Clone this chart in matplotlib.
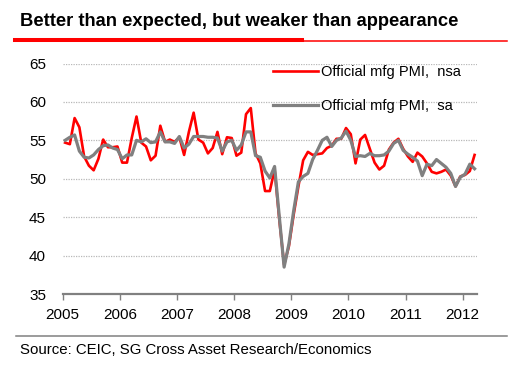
import numpy as np
import matplotlib.pyplot as plt
from matplotlib.lines import Line2D

plt.rcParams['font.family'] = ['Liberation Sans', 'DejaVu Sans']

# Official manufacturing PMI, Jan 2005 - Mar 2012 (monthly)
pmi_nsa = [
    54.7, 54.5, 57.9, 56.7, 52.9, 51.7, 51.1, 52.6, 55.1, 54.1, 54.1, 54.2,   # 2005
    52.1, 52.1, 55.3, 58.1, 54.7, 54.2, 52.4, 53.0, 56.9, 54.8, 55.1, 54.8,   # 2006
    55.4, 53.1, 56.1, 58.6, 55.1, 54.7, 53.3, 54.0, 56.1, 53.2, 55.4, 55.3,   # 2007
    53.0, 53.4, 58.4, 59.2, 53.3, 52.0, 48.4, 48.4, 51.2, 44.6, 38.8, 41.2,   # 2008
    45.3, 49.0, 52.4, 53.5, 53.1, 53.2, 53.3, 54.0, 54.3, 55.2, 55.2, 56.6,   # 2009
    55.8, 52.0, 55.1, 55.7, 53.9, 52.1, 51.2, 51.7, 53.8, 54.7, 55.2, 53.9,   # 2010
    52.9, 52.2, 53.4, 52.9, 52.0, 50.9, 50.7, 50.9, 51.2, 50.4, 49.0, 50.3,   # 2011
    50.5, 51.0, 53.1,                                                       # 2012
]
pmi_sa = [
    55.0, 55.4, 55.7, 53.6, 52.8, 52.7, 53.1, 53.8, 54.3, 54.4, 54.0, 53.8,   # 2005
    52.6, 53.1, 53.1, 55.0, 54.8, 55.2, 54.7, 54.8, 56.1, 54.8, 54.8, 54.6,   # 2006
    55.5, 54.0, 54.5, 55.5, 55.5, 55.5, 55.4, 55.4, 55.3, 53.6, 54.8, 55.0,   # 2007
    53.7, 54.4, 56.1, 56.1, 53.0, 52.8, 51.0, 50.1, 51.6, 45.0, 38.5, 41.5,   # 2008
    45.8, 49.6, 50.3, 50.7, 52.5, 53.7, 55.0, 55.4, 54.2, 55.0, 55.3, 56.2,   # 2009
    55.0, 52.9, 53.0, 52.9, 53.3, 53.0, 53.0, 53.1, 53.6, 54.6, 55.0, 53.7,   # 2010
    53.2, 52.8, 52.3, 50.4, 51.9, 51.7, 52.5, 52.0, 51.5, 50.7, 49.0, 50.2,   # 2011
    50.6, 51.9, 51.3,                                                       # 2012
]
years = [2005, 2006, 2007, 2008, 2009, 2010, 2011, 2012]
yticks = [35, 40, 45, 50, 55, 60, 65]

# monthly points sit mid-month on a year axis
t = 2005 + (np.arange(len(pmi_nsa)) + 0.5) / 12.0

W, H = 521, 371
fig = plt.figure(figsize=(W / 100, H / 100), dpi=100)

ax = fig.add_axes([62.7 / W, 1 - 294 / H, 414.6 / W, 230.5 / H])
ax.plot(t, pmi_nsa, color='#ff0000', lw=1.9, label='Official mfg PMI,  nsa', zorder=3)
ax.plot(t, pmi_sa, color='#808080', lw=2.3, label='Official mfg PMI,  sa', zorder=4)

ax.set_xlim(2005, 2012.256)
ax.set_ylim(35, 65)
ax.set_xticks(years)
ax.set_yticks(yticks)
ax.tick_params(axis='y', length=0, pad=12, labelsize=11)
ax.tick_params(axis='x', length=4, width=1, color='#808080', pad=6, labelsize=11)
for s in ['left', 'right', 'top']:
    ax.spines[s].set_visible(False)
ax.spines['bottom'].set_color('#808080')
ax.spines['bottom'].set_linewidth(1.6)
ax.grid(axis='y', color='#b8b8b8', lw=0.9, ls=(0, (1, 1)))
ax.set_axisbelow(True)

ax.legend(loc='upper left', bbox_to_anchor=(0.507, 0.995), frameon=False,
          fontsize=10.5, handlelength=3.1, handletextpad=0.2,
          borderpad=0, borderaxespad=0, labelspacing=1.4)

# title and rules
fig.text(20 / W, 1 - 22 / H, 'Better than expected, but weaker than appearance',
         fontsize=13.2, fontweight='bold', va='center', ha='left')
fig.add_artist(Line2D([15 / W, 302 / W], [1 - 39.7 / H] * 2, color='#ff0000', lw=2.9))
fig.add_artist(Line2D([302 / W, 507 / W], [1 - 41.2 / H] * 2, color='#ff0000', lw=1.1))
fig.add_artist(Line2D([16 / W, 507 / W], [1 - 336 / H] * 2, color='#808080', lw=1.1))
fig.text(20 / W, 1 - 350 / H, 'Source: CEIC, SG Cross Asset Research/Economics',
         fontsize=10.8, va='center', ha='left')

fig.savefig('out.png', dpi=100)
